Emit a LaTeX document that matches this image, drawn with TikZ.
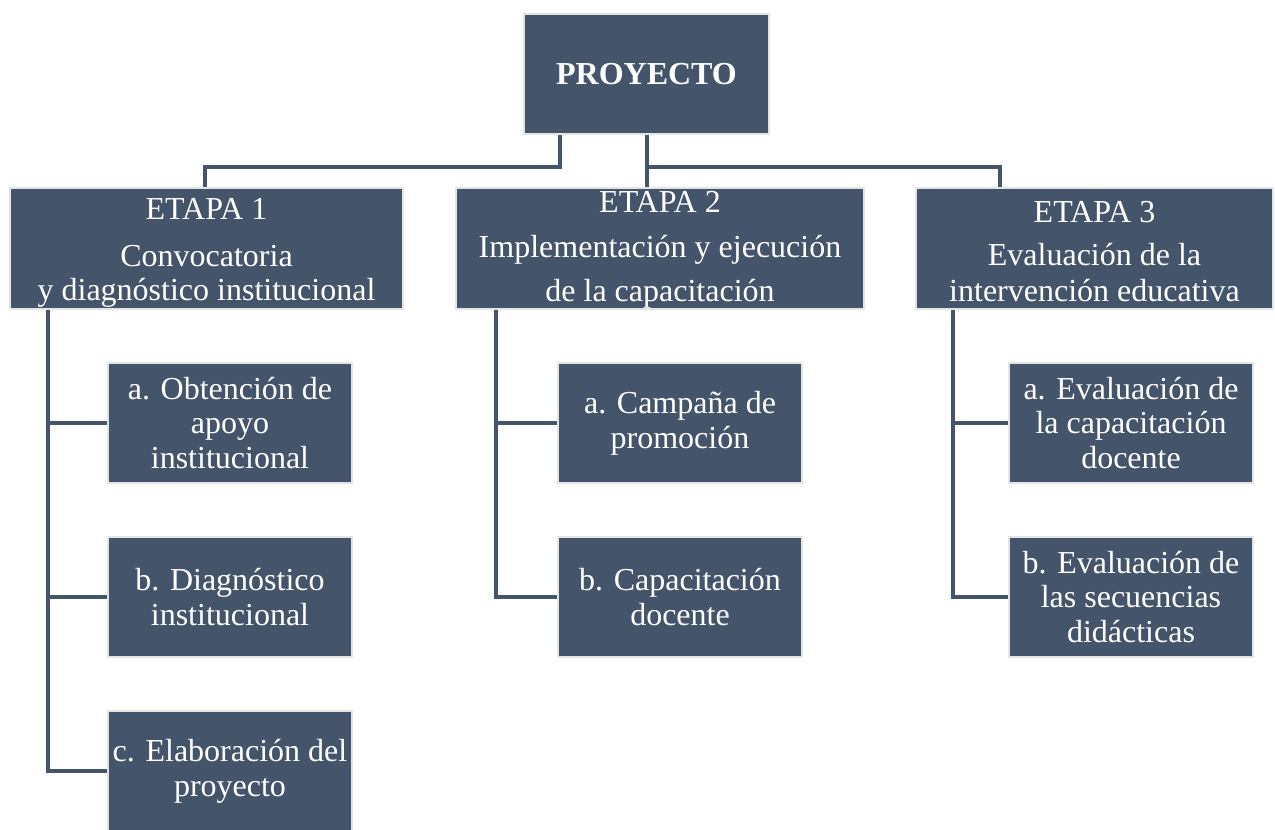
\documentclass[tikz,border=0pt]{standalone}
\usepackage{fontspec}
\setmainfont{Liberation Serif}
\definecolor{boxfill}{HTML}{44546A}
\definecolor{boxedge}{HTML}{E4E4E4}
\begin{document}
\begin{tikzpicture}[x=0.75pt,y=-0.75pt,
  box/.style={fill=boxfill, draw=boxedge, line width=1.5pt, text=white, align=center, inner sep=0pt, font=\fontsize{24}{25.5}\selectfont},
  stage/.style={box, minimum height=90.75pt},
  sub/.style={box, minimum width=183pt, minimum height=90pt, font=\fontsize{24}{26}\selectfont},
  link/.style={draw=boxfill, line width=2.3pt}]
\useasboundingbox (0,0) rectangle (1275,830);
\fill[white] (0,0) rectangle (1275,830);

\node[box, minimum width=183.75pt, minimum height=90pt, font=\fontsize{24}{25}\selectfont\bfseries] (P) at (646.5,74) {PROYECTO};

\node[stage, minimum width=294.75pt] (E1) at (206.5,248.5) {\rule{0pt}{22.5pt}ETAPA 1\\[9.5pt]Convocatoria\\y diagnóstico institucional};
\node[stage, minimum width=306pt] (E2) at (660,248.5) {\rule{0pt}{18pt}ETAPA 2\\[8.5pt]Implementación y ejecución\\[7.5pt]de la capacitación};
\node[stage, minimum width=267.75pt] (E3) at (1094.5,248.5) {\rule{0pt}{20pt}ETAPA 3\\[6.5pt]Evaluación de la\\[1.5pt]intervención educativa};

\node[sub] (E1a) at (230,423) {a. Obtención de\\apoyo\\institucional};
\node[sub] (E1b) at (230,597) {b. Diagnóstico\\institucional};
\node[sub] (E1c) at (230,771) {c. Elaboración del\\proyecto};

\node[sub] (E2a) at (680,423) {a. Campaña de\\promoción};
\node[sub] (E2b) at (680,597) {b. Capacitación\\docente};

\node[sub] (E3a) at (1131,423) {a. Evaluación de\\la capacitación\\docente};
\node[sub] (E3b) at (1131,597) {b. Evaluación de\\las secuencias\\didácticas};

\coordinate (j1) at (560,167);
\coordinate (j2) at (205,167);
\coordinate (j3) at (647,167);
\coordinate (j4) at (1000,167);
\draw[link] (P.south -| j1) -- (j1) -- (j2) -- (E1.north -| j2);
\draw[link] (P.south -| j3) -- (E2.north -| j3);
\draw[link] (j3) -- (j4) -- (E3.north -| j4);

\coordinate (v1) at (48,0);
\coordinate (v2) at (496,0);
\coordinate (v3) at (953,0);
\draw[link] (E1.south -| v1) |- (E1c.west);
\draw[link] (v1 |- E1a.west) -- (E1a.west);
\draw[link] (v1 |- E1b.west) -- (E1b.west);
\draw[link] (E2.south -| v2) |- (E2b.west);
\draw[link] (v2 |- E2a.west) -- (E2a.west);
\draw[link] (E3.south -| v3) |- (E3b.west);
\draw[link] (v3 |- E3a.west) -- (E3a.west);
\end{tikzpicture}
\end{document}
